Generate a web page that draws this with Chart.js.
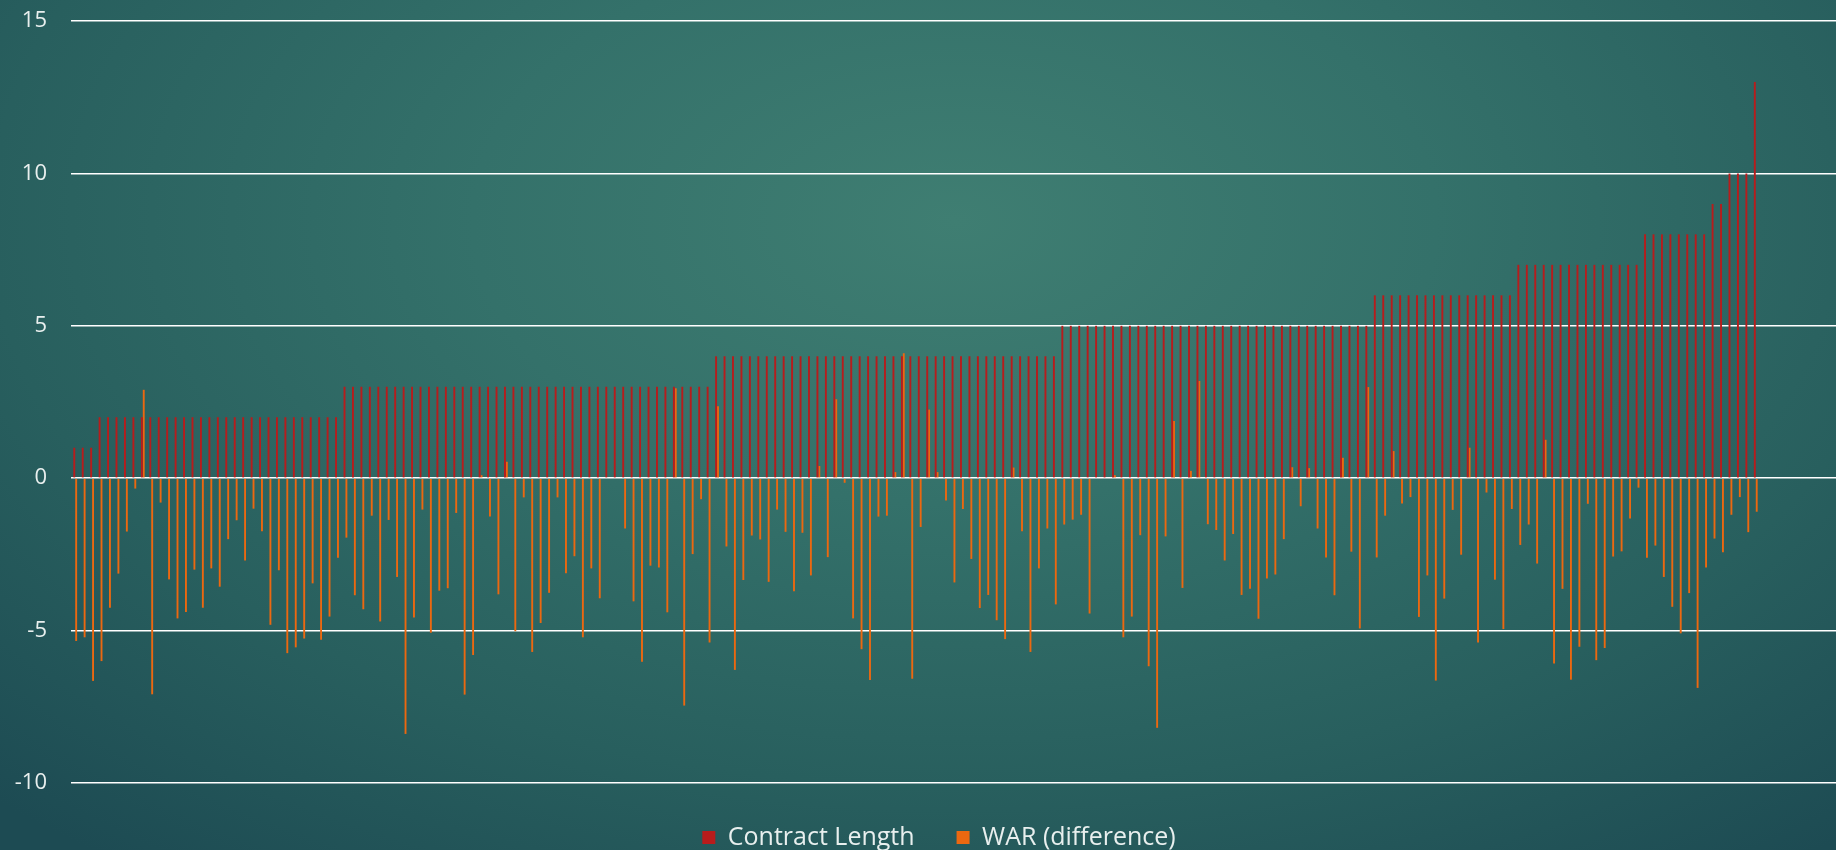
<!DOCTYPE html>
<html>
<head>
<meta charset="utf-8">
<script src="https://cdn.jsdelivr.net/npm/chart.js@4.4.1/dist/chart.umd.min.js"></script>
<style>
  html, body { margin: 0; padding: 0; }
  body {
    width: 1836px;
    height: 850px;
    overflow: hidden;
    background: radial-gradient(ellipse 75% 95% at 52% 26%, #3f7e72 0%, #34716a 35%, #285f5e 70%, #1d4b53 100%);
  }
  #wrap { width: 1836px; height: 850px; }
</style>
</head>
<body>
<div id="wrap"><canvas id="chart" width="1836" height="850"></canvas></div>
<script>
// one value per player, sorted by contract length
const contractLength = [
  1, 1, 1,
  2, 2, 2, 2, 2, 2, 2, 2, 2, 2, 2, 2, 2, 2, 2, 2, 2, 2, 2, 2, 2, 2, 2, 2, 2, 2, 2, 2, 2,
  3, 3, 3, 3, 3, 3, 3, 3, 3, 3, 3, 3, 3, 3, 3, 3, 3, 3, 3, 3, 3, 3,
  3, 3, 3, 3, 3, 3, 3, 3, 3, 3, 3, 3, 3, 3, 3, 3, 3, 3, 3, 3, 3, 3,
  4, 4, 4, 4, 4, 4, 4, 4, 4, 4, 4, 4, 4, 4, 4, 4, 4, 4, 4, 4, 4,
  4, 4, 4, 4, 4, 4, 4, 4, 4, 4, 4, 4, 4, 4, 4, 4, 4, 4, 4, 4,
  5, 5, 5, 5, 5, 5, 5, 5, 5, 5, 5, 5, 5, 5, 5, 5, 5, 5, 5,
  5, 5, 5, 5, 5, 5, 5, 5, 5, 5, 5, 5, 5, 5, 5, 5, 5, 5,
  6, 6, 6, 6, 6, 6, 6, 6, 6, 6, 6, 6, 6, 6, 6, 6, 6,
  7, 7, 7, 7, 7, 7, 7, 7, 7, 7, 7, 7, 7, 7, 7,
  8, 8, 8, 8, 8, 8, 8, 8,
  9, 9,
  10, 10, 10,
  13
];

const warDifference = [
  -5.34, -5.22, -6.65, -6.00, -4.25, -3.13, -1.75, -0.34, 2.90, -7.09,
  -0.80, -3.32, -4.60, -4.39, -3.00, -4.25, -2.96, -3.56, -2.00, -1.38,
  -2.70, -1.00, -1.74, -4.81, -3.02, -5.74, -5.55, -5.26, -3.45, -5.30,
  -4.54, -2.61, -1.95, -3.84, -4.30, -1.23, -4.70, -1.37, -3.24, -8.39,
  -4.57, -1.03, -5.07, -3.69, -3.61, -1.14, -7.10, -5.80, 0.10, -1.26,
  -3.81, 0.54, -5.02, -0.63, -5.70, -4.75, -3.76, -0.63, -3.12, -2.56,
  -5.22, -2.96, -3.94, 0, 0, -1.65, -4.04, -6.02, -2.87, -2.93,
  -4.40, 2.95, -7.46, -2.49, -0.69, -5.39, 2.36, -2.24, -6.29, -3.34,
  -1.88, -2.01, -3.40, -1.03, -1.76, -3.71, -1.79, -3.19, 0.40, -2.59,
  2.59, -0.15, -4.60, -5.61, -6.62, -1.26, -1.23, 0.20, 4.10, -6.58,
  -1.60, 2.25, 0.20, -0.73, -3.42, -1.01, -2.65, -4.26, -3.83, -4.66,
  -5.28, 0.35, -1.74, -5.70, -2.96, -1.65, -4.14, -1.52, -1.36, -1.20,
  -4.44, 0, 0, 0.10, -5.22, -4.54, -1.87, -6.17, -8.19, -1.91,
  1.88, -3.60, 0.24, 3.19, -1.51, -1.70, -2.70, -1.83, -3.83, -3.63,
  -4.61, -3.29, -3.16, -2.00, 0.36, -0.92, 0.33, -1.65, -2.60, -3.84,
  0.67, -2.41, -4.93, 2.99, -2.60, -1.23, 0.89, -0.83, -0.62, -4.55,
  -3.19, -6.64, -3.95, -1.04, -2.51, 1.00, -5.39, -0.47, -3.33, -4.95,
  -1.01, -2.19, -1.52, -2.80, 1.26, -6.08, -3.63, -6.61, -5.53, -0.84,
  -5.97, -5.57, -2.57, -2.40, -1.32, -0.31, -2.61, -2.21, -3.24, -4.22,
  -5.09, -3.77, -6.88, -2.93, -1.98, -2.43, -1.20, -0.62, -1.77, -1.10
];

const yTicks = [-10, -5, 0, 5, 10, 15];

// the plot area runs on past the last player, so pad the category axis
const extraSlots = 9;
const players = contractLength.map((_, i) => "" + (i + 1));
for (let i = 0; i < extraSlots; i++) players.push("");

const textColor = "#e8efee";

new Chart(document.getElementById("chart"), {
  type: "bar",
  data: {
    labels: players,
    datasets: [
      {
        label: "Contract Length",
        data: contractLength,
        backgroundColor: "#b81c1c",
        borderWidth: 0,
      },
      {
        label: "WAR (difference)",
        data: warDifference,
        backgroundColor: "#ec6810",
        borderWidth: 0,
      },
    ],
  },
  options: {
    responsive: false,
    animation: false,
    devicePixelRatio: 1,
    categoryPercentage: 0.45,
    barPercentage: 1.0,
    layout: {
      padding: { top: 21, right: 0, bottom: 0, left: 0 },
    },
    scales: {
      x: {
        display: false,
      },
      y: {
        min: yTicks[0],
        max: yTicks[yTicks.length - 1],
        afterFit: (scale) => {
          scale.width = 71;
        },
        afterBuildTicks: (scale) => {
          scale.ticks = yTicks.map((v) => ({ value: v }));
        },
        border: { display: false },
        grid: {
          color: "#ffffff",
          lineWidth: 1.6,
          drawTicks: true,
          tickLength: 24,
          tickColor: "rgba(0,0,0,0)",
        },
        ticks: {
          color: textColor,
          padding: 0,
          font: { family: "'Open Sans', sans-serif", size: 22 },
        },
      },
    },
    plugins: {
      tooltip: { enabled: false },
      legend: {
        position: "bottom",
        maxHeight: 67,
        labels: {
          color: textColor,
          boxWidth: 13,
          boxHeight: 13,
          padding: 42,
          font: { family: "'Open Sans', sans-serif", size: 25 },
        },
      },
    },
  },
  plugins: [
    {
      id: "legendShift",
      afterLayout: (chart) => {
        chart.legend.left += 21;
        chart.legend.right += 21;
      },
    },
  ],
});
</script>
</body>
</html>
